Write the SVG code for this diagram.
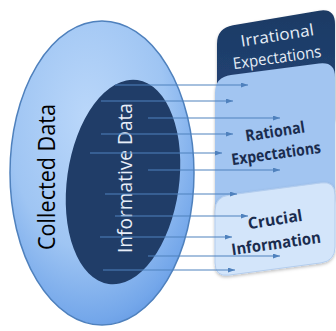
<svg xmlns="http://www.w3.org/2000/svg" width="336" height="331" viewBox="0 0 336 331">
<defs>
<radialGradient id="outerG" cx="0.42" cy="0.32" r="0.78">
<stop offset="0" stop-color="#bad7fa"/>
<stop offset="0.55" stop-color="#9fc5f3"/>
<stop offset="0.85" stop-color="#74a7ea"/>
<stop offset="1" stop-color="#5a90df"/>
</radialGradient>
<linearGradient id="darkG" x1="0" y1="0" x2="0" y2="1">
<stop offset="0" stop-color="#1c3a64"/>
<stop offset="1" stop-color="#24467a"/>
</linearGradient>
<marker id="ah" markerWidth="8" markerHeight="6" refX="7" refY="2.5" orient="auto" markerUnits="userSpaceOnUse">
<path d="M0,0 L7,2.5 L0,5 Z" fill="#4f81bd"/>
</marker>
<filter id="sh" x="-10%" y="-10%" width="120%" height="130%">
<feDropShadow dx="0" dy="1.5" stdDeviation="1.5" flood-color="#000" flood-opacity="0.25"/>
</filter>
</defs>
<style>
.lt{font-family:"Open Sans","Liberation Sans",sans-serif;fill:#e6edf7;font-size:16px;text-anchor:middle}
.bt{font-family:"Open Sans","Liberation Sans",sans-serif;fill:#1a2c4e;font-size:16px;font-weight:bold;text-anchor:middle}
.arr{stroke:#4f81bd;stroke-width:1.2;fill:none;marker-end:url(#ah)}
</style>
<g id="collected">
<ellipse cx="102" cy="173" rx="92" ry="152" fill="url(#outerG)" stroke="#4f81bd" stroke-width="1.5"/>
<text transform="translate(55,177) rotate(-90)" x="0" y="0" font-family="'Open Sans','Liberation Sans',sans-serif" font-size="23" fill="#000" text-anchor="middle" textLength="146" lengthAdjust="spacingAndGlyphs">Collected Data</text>
</g>
<g id="informative">
<ellipse cx="123" cy="182" rx="56" ry="103" transform="rotate(8 123 182)" fill="#203d68"/>
<text transform="translate(132,178) rotate(-90)" x="0" y="0" font-family="'Open Sans','Liberation Sans',sans-serif" font-size="20" fill="#e8eef8" text-anchor="middle" textLength="150" lengthAdjust="spacingAndGlyphs">Informative Data</text>
</g>
<g id="irrational">
<path d="M217,44 Q217,28 233,25.3 L319,10.7 Q335,8 335,24 L335,120 L217,130 Z" fill="url(#darkG)" filter="url(#sh)"/>
<text class="lt" transform="translate(277,35) rotate(-9)" x="0" y="6" textLength="74" lengthAdjust="spacingAndGlyphs">Irrational</text>
<text class="lt" transform="translate(277,57) rotate(-8)" x="0" y="6" textLength="89" lengthAdjust="spacingAndGlyphs">Expectations</text>
</g>
<g id="rational">
<path d="M215,93 Q215,77 231,74.9 L319,63.5 Q335,61.4 335,77 L335,200 L215,215 Z" fill="#a2c5f1" filter="url(#sh)"/>
<text class="bt" transform="translate(275,131) rotate(-9)" x="0" y="6" textLength="60" lengthAdjust="spacingAndGlyphs">Rational</text>
<text class="bt" transform="translate(276,153) rotate(-8)" x="0" y="6" textLength="90" lengthAdjust="spacingAndGlyphs">Expectations</text>
</g>
<g id="crucial">
<path d="M215,211 Q215,197 229,195.1 L321,182.9 Q335,181 335,195 L335,247 Q335,261 321,262.9 L229,275.1 Q215,277 215,263 Z" fill="#d3e5fa" stroke="#b3cdee" stroke-width="1" filter="url(#sh)"/>
<text class="bt" transform="translate(275,219) rotate(-9)" x="0" y="6" textLength="55" lengthAdjust="spacingAndGlyphs">Crucial</text>
<text class="bt" transform="translate(276,243) rotate(-8)" x="0" y="6" textLength="90" lengthAdjust="spacingAndGlyphs">Information</text>
</g>
<g id="connectors">
<line class="arr" x1="115" y1="85" x2="248" y2="85"/>
<line class="arr" x1="101" y1="101" x2="233" y2="101"/>
<line class="arr" x1="148" y1="118" x2="280" y2="118"/>
<line class="arr" x1="101" y1="134" x2="233" y2="134"/>
<line class="arr" x1="90" y1="153" x2="222" y2="153"/>
<line class="arr" x1="148" y1="170" x2="280" y2="170"/>
<line class="arr" x1="105" y1="194" x2="237" y2="194"/>
<line class="arr" x1="115" y1="216" x2="248" y2="216"/>
<line class="arr" x1="100" y1="237" x2="232" y2="237"/>
<line class="arr" x1="148" y1="256" x2="280" y2="256"/>
<line class="arr" x1="103" y1="270" x2="235" y2="270"/>
</g>
</svg>
